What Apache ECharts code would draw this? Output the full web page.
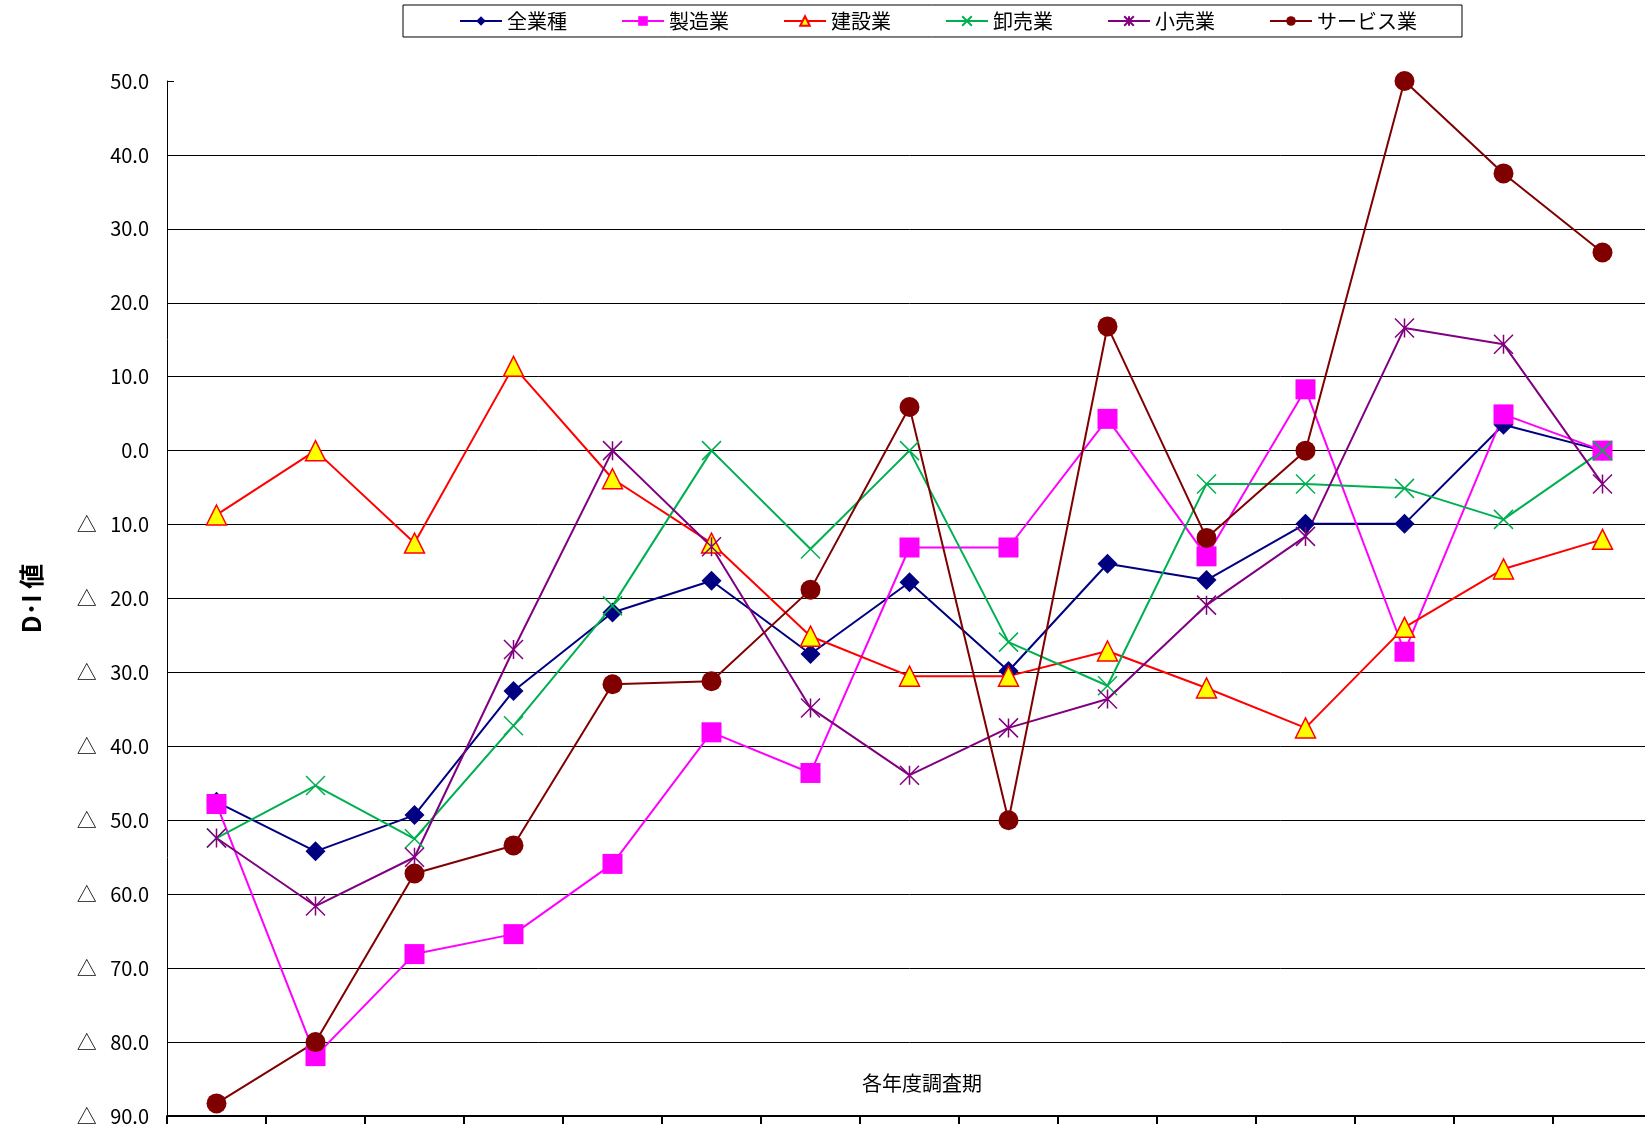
<!DOCTYPE html>
<html lang="ja">
<head>
<meta charset="utf-8">
<title>業種別 D・I 値の推移</title>
<script src="https://cdn.jsdelivr.net/npm/echarts@6/dist/echarts.min.js"></script>
<style>
  html, body { margin: 0; padding: 0; background: #fff; overflow: hidden; }
  /* the plot runs slightly past the right edge of the page */
  #chart { width: 1660px; height: 1126px; }
</style>
</head>
<body>
<div id="chart"></div>
<script>
// Survey periods (axis labels fall below the visible area)
const periods = ['1', '2', '3', '4', '5', '6', '7', '8', '9', '10', '11', '12', '13', '14', '15'];

// D・I values per industry
const allIndustries = [-47.5, -54.2, -49.3, -32.5, -21.9, -17.6, -27.5, -17.8, -29.8, -15.3, -17.5, -9.9, -9.9, 3.5, 0.0];
const manufacturing = [-47.8, -81.9, -68.1, -65.4, -55.9, -38.1, -43.6, -13.1, -13.1, 4.3, -14.3, 8.3, -27.2, 4.9, 0.0];
const construction  = [-8.7, 0.0, -12.5, 11.4, -3.8, -12.5, -25.1, -30.5, -30.5, -27.1, -32.1, -37.5, -23.9, -16.0, -12.0];
const wholesale     = [-52.4, -45.3, -52.5, -37.2, -21.0, 0.0, -13.3, 0.0, -25.9, -31.8, -4.5, -4.5, -5.1, -9.3, 0.0];
const retail        = [-52.4, -61.6, -55.0, -26.9, 0.0, -13.0, -34.8, -43.9, -37.5, -33.6, -20.9, -11.6, 16.6, 14.4, -4.5];
const services      = [-88.3, -80.0, -57.2, -53.4, -31.6, -31.2, -18.8, 5.9, -50.0, 16.8, -11.8, 0.0, 50.0, 37.5, 26.8];

const seriesNames = ['全業種', '製造業', '建設業', '卸売業', '小売業', 'サービス業'];

// Y axis range and ticks
const yMin = -90, yMax = 50, yStep = 10;

const FONT = '"Noto Sans CJK JP", "Noto Sans", sans-serif';

const crossPath = 'path://M0,0L10,10M10,0L0,10';
const starPath = 'path://M0,0L10,10M10,0L0,10M5,0L5,10';

function lineSeries(name, data, color, symbol, size, itemStyle) {
  return {
    name: name,
    type: 'line',
    data: data,
    symbol: symbol,
    symbolSize: size,
    showAllSymbol: true,
    lineStyle: { color: color, width: 2 },
    itemStyle: itemStyle,
    emphasis: { disabled: true }
  };
}

const chart = echarts.init(document.getElementById('chart'), null, { renderer: 'canvas' });

chart.setOption({
  animation: false,
  backgroundColor: '#ffffff',
  textStyle: { fontFamily: FONT },
  legend: {
    data: seriesNames,
    left: 403,
    top: 5,
    itemWidth: 42,
    itemHeight: 12,
    itemGap: 54,
    padding: [6, 45, 6, 56],
    borderColor: '#000',
    borderWidth: 1,
    textStyle: { fontFamily: FONT, fontSize: 20, color: '#000' }
  },
  grid: { left: 167, top: 81, width: 1485, height: 1037 },
  xAxis: {
    type: 'category',
    data: periods,
    boundaryGap: true,
    axisLine: { onZero: false, lineStyle: { color: '#000', width: 2 } },
    axisTick: { show: true, length: 8, lineStyle: { color: '#000', width: 2 } },
    axisLabel: { show: false },
    splitLine: { show: false }
  },
  yAxis: {
    type: 'value',
    min: yMin,
    max: yMax,
    interval: yStep,
    name: 'D･I 値',
    nameLocation: 'middle',
    nameRotate: 90,
    nameGap: 123,
    nameTextStyle: { fontFamily: FONT, fontSize: 25, color: '#000', fontWeight: 'bold' },
    axisLine: { show: true, lineStyle: { color: '#000', width: 1 } },
    axisTick: { show: true, inside: true, length: 7, lineStyle: { color: '#000' } },
    axisLabel: {
      margin: 18,
      fontFamily: FONT,
      fontSize: 20,
      color: '#000',
      formatter: function (v) {
        return v < 0 ? '△   ' + Math.abs(v).toFixed(1) : v.toFixed(1);
      }
    },
    splitLine: { show: true, showMaxLine: false, lineStyle: { color: '#000', width: 1 } }
  },
  graphic: [{
    type: 'text',
    x: 922,
    y: 1083,
    style: {
      text: '各年度調査期',
      fontFamily: FONT,
      fontSize: 20,
      fill: '#000',
      align: 'center',
      verticalAlign: 'middle'
    }
  }],
  series: [
    lineSeries(seriesNames[0], allIndustries, '#000080', 'diamond', 20, { color: '#000080' }),
    lineSeries(seriesNames[1], manufacturing, '#ff00ff', 'rect', 20, { color: '#ff00ff' }),
    lineSeries(seriesNames[2], construction, '#ff0000', 'triangle', 20, { color: '#ffff00', borderColor: '#ff0000', borderWidth: 1.5 }),
    lineSeries(seriesNames[3], wholesale, '#00b050', crossPath, 19, { color: 'transparent', borderColor: '#00b050', borderWidth: 1.5 }),
    lineSeries(seriesNames[4], retail, '#800080', starPath, 19, { color: 'transparent', borderColor: '#800080', borderWidth: 1.5 }),
    lineSeries(seriesNames[5], services, '#800000', 'circle', 20, { color: '#800000' })
  ]
});
</script>
</body>
</html>
